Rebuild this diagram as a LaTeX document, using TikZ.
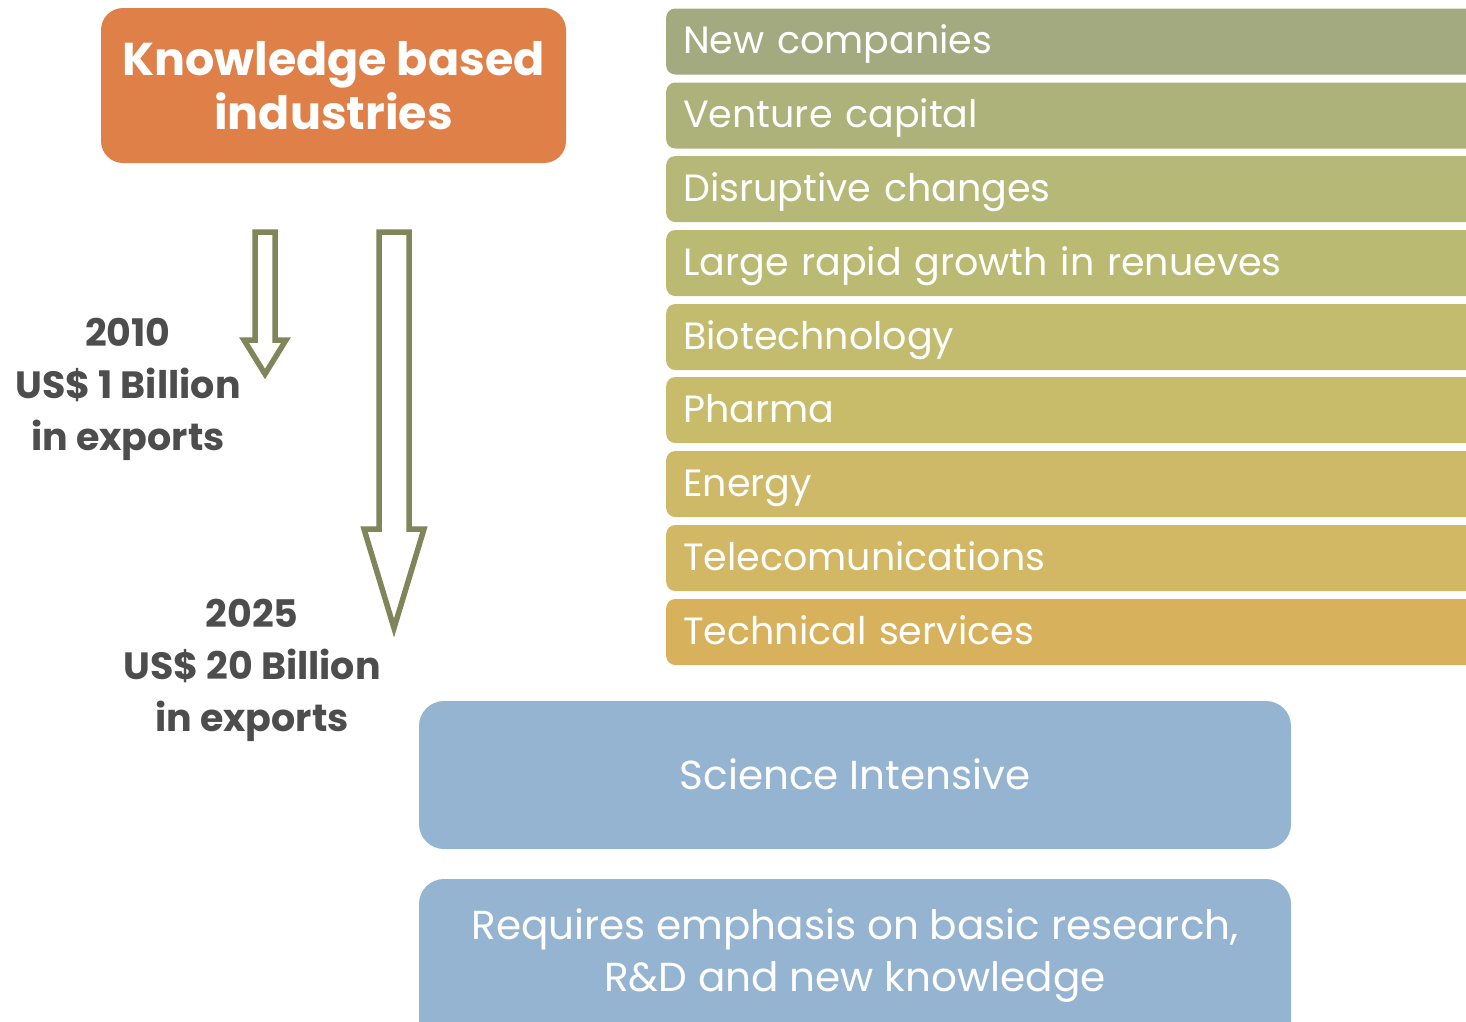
\documentclass[tikz,border=0pt]{standalone}
\usepackage{fontspec}
\setmainfont{Poppins}
\definecolor{orangebox}{HTML}{DF8049}
\definecolor{graytxt}{HTML}{4D4D4D}
\definecolor{olivearrow}{HTML}{808659}
\definecolor{bluebox}{HTML}{95B4D1}
\definecolor{barA}{HTML}{A3AA7F}
\definecolor{barB}{HTML}{ADB17A}
\definecolor{barC}{HTML}{B5B877}
\definecolor{barD}{HTML}{BBBA72}
\definecolor{barE}{HTML}{C3BB6E}
\definecolor{barF}{HTML}{C8BC6B}
\definecolor{barG}{HTML}{CDB968}
\definecolor{barH}{HTML}{D2B764}
\definecolor{barI}{HTML}{D8B15C}
\tikzset{
  titlebox/.style={fill=orangebox, rounded corners=22pt, text=white, align=center,
    font=\fontsize{46}{54}\selectfont\bfseries, minimum width=465pt, minimum height=155pt},
  barbox/.style={anchor=west, rounded corners=9pt, text=white, align=left,
    minimum height=66pt, text width=780pt, inner xsep=17pt, inner ysep=0pt,
    font=\fontsize{38}{44}\selectfont, text height=30pt, text depth=6pt},
  bluenode/.style={fill=bluebox, rounded corners=25pt, minimum width=872pt},
  bluetext/.style={text=white, align=center, font=\fontsize{40.5}{52}\selectfont},
  graylabel/.style={text=graytxt, align=center, font=\fontsize{38}{52}\selectfont\bfseries},
  hollowarrow/.style={draw=olivearrow, fill=white, line width=5.5pt, line join=miter}
}
\begin{document}
\begin{tikzpicture}[x=1pt,y=-1pt]
\useasboundingbox (0,0) rectangle (1466,1021);
\clip (0,0) rectangle (1466,1021);

\node[titlebox] (kbi) at (333.5,85.5) {Knowledge based\\industries};

\node[barbox, fill=barA] (b1) at (666,41.5) {New companies};
\node[barbox, fill=barB] (b2) at (666,115.5) {Venture capital};
\node[barbox, fill=barC] (b3) at (666,189) {Disruptive changes};
\node[barbox, fill=barD] (b4) at (666,263) {Large rapid growth in renueves};
\node[barbox, fill=barE] (b5) at (666,337) {Biotechnology};
\node[barbox, fill=barF] (b6) at (666,410) {Pharma};
\node[barbox, fill=barG] (b7) at (666,484) {Energy};
\node[barbox, fill=barH] (b8) at (666,558) {Telecomunications};
\node[barbox, fill=barI] (b9) at (666,632) {Technical services};

% hollow arrows
\draw[hollowarrow] (255,232) -- (275,232) -- (275,340) -- (286,340) -- (265,374)
  -- (244,340) -- (255,340) -- cycle;
\draw[hollowarrow] (379,232) -- (409,232) -- (409,529) -- (424,529) -- (394,628)
  -- (364,529) -- (379,529) -- cycle;

\node[graylabel] (l2010) at (128,389) {2010\\US\$ 1 Billion\\in exports};
\node[graylabel] (l2025) at (252,670) {2025\\US\$ 20 Billion\\in exports};

\node[bluenode, minimum height=148pt] (sci) at (855,775) {};
\node[bluetext] (scit) at (855,774) {Science Intensive};
\node[bluenode, minimum height=170pt] (req) at (855,964) {};
\node[bluetext] (reqt) at (855,956) {Requires emphasis on basic research,\\R\&D and new knowledge};
\end{tikzpicture}
\end{document}
